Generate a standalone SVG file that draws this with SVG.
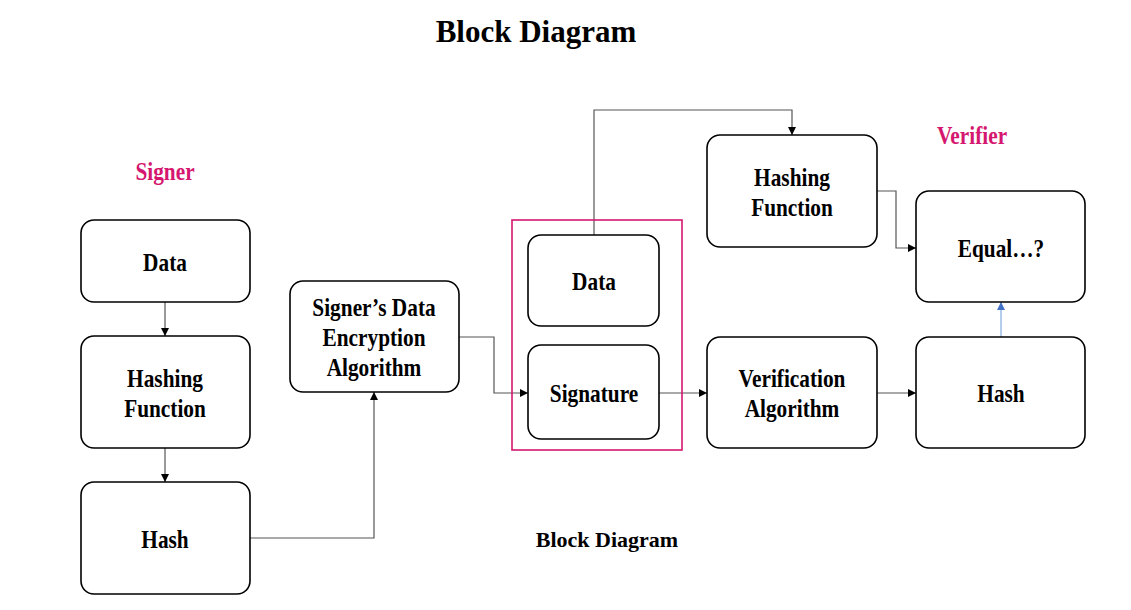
<svg xmlns="http://www.w3.org/2000/svg" width="1131" height="610" viewBox="0 0 1131 610">
<style>
.box{fill:#fff;stroke:#000;stroke-width:1.6}
.t{font-family:"Liberation Serif","Times New Roman",serif;font-weight:bold;font-size:26px;fill:#000;text-anchor:middle}
.p{fill:#d5176f}
.c{fill:none;stroke:#555;stroke-width:1.2}
</style>
<defs>
<marker id="a" viewBox="0 0 10 10" refX="10" refY="5" markerWidth="8" markerHeight="8" orient="auto" markerUnits="userSpaceOnUse"><path d="M0,0 L10,5 L0,10 z" fill="#000"/></marker>
<marker id="b" viewBox="0 0 10 10" refX="10" refY="5" markerWidth="8" markerHeight="8" orient="auto" markerUnits="userSpaceOnUse"><path d="M0,0 L10,5 L0,10 z" fill="#4472c4"/></marker>
</defs>
<rect width="1131" height="610" fill="#fff"/>
<text x="536" y="42" style="font-family:'Liberation Serif',serif;font-weight:bold;font-size:31px;text-anchor:middle">Block Diagram</text>
<text class="t p" transform="translate(165 0) scale(0.82 1)" x="0" y="180">Signer</text>
<text class="t p" transform="translate(972 0) scale(0.82 1)" x="0" y="144">Verifier</text>
<text x="607" y="547" style="font-family:'Liberation Serif',serif;font-weight:bold;font-size:22px;text-anchor:middle">Block Diagram</text>

<g id="connectors">
<path class="c" d="M165,302 V336" marker-end="url(#a)"/>
<path class="c" d="M165,448 V482" marker-end="url(#a)"/>
<path class="c" d="M250,538 H374 V392" marker-end="url(#a)"/>
<path class="c" d="M459,337 H494 V393 H528" marker-end="url(#a)"/>
<path class="c" d="M594,235 V110 H792 V135" marker-end="url(#a)"/>
<path class="c" d="M659,393 H707" marker-end="url(#a)"/>
<path class="c" d="M877,191 H896 V248 H916" marker-end="url(#a)"/>
<path class="c" d="M877,393 H916" marker-end="url(#a)"/>
<path d="M1001,337 V302" fill="none" stroke="#9dbde6" stroke-width="1.5" marker-end="url(#b)"/>
</g>

<g id="n-data"><rect class="box" x="81" y="220" width="169" height="82" rx="13"/><text class="t" transform="translate(165 0) scale(0.82 1)" x="0" y="271">Data</text></g>
<g id="n-hashfn"><rect class="box" x="81" y="336" width="169" height="112" rx="13"/><text class="t" transform="translate(165 0) scale(0.82 1)" x="0" y="387">Hashing</text><text class="t" transform="translate(165 0) scale(0.82 1)" x="0" y="417">Function</text></g>
<g id="n-hash"><rect class="box" x="81" y="482" width="169" height="112" rx="13"/><text class="t" transform="translate(165 0) scale(0.82 1)" x="0" y="548">Hash</text></g>
<g id="n-enc"><rect class="box" x="290" y="281" width="169" height="111" rx="13"/><text class="t" transform="translate(374 0) scale(0.82 1)" x="0" y="316">Signer’s Data</text><text class="t" transform="translate(374 0) scale(0.82 1)" x="0" y="346">Encryption</text><text class="t" transform="translate(374 0) scale(0.82 1)" x="0" y="376">Algorithm</text></g>
<g id="n-group"><rect x="512" y="220" width="170" height="230" fill="none" stroke="#d5176f" stroke-width="1.6"/></g>
<g id="n-data2"><rect class="box" x="528" y="235" width="131" height="91" rx="13"/><text class="t" transform="translate(594 0) scale(0.82 1)" x="0" y="290">Data</text></g>
<g id="n-sig"><rect class="box" x="528" y="345" width="131" height="94" rx="13"/><text class="t" transform="translate(594 0) scale(0.82 1)" x="0" y="402">Signature</text></g>
<g id="n-hashfn2"><rect class="box" x="707" y="135" width="170" height="112" rx="13"/><text class="t" transform="translate(792 0) scale(0.82 1)" x="0" y="186">Hashing</text><text class="t" transform="translate(792 0) scale(0.82 1)" x="0" y="216">Function</text></g>
<g id="n-verif"><rect class="box" x="707" y="337" width="170" height="111" rx="13"/><text class="t" transform="translate(792 0) scale(0.82 1)" x="0" y="387">Verification</text><text class="t" transform="translate(792 0) scale(0.82 1)" x="0" y="417">Algorithm</text></g>
<g id="n-equal"><rect class="box" x="916" y="191" width="169" height="111" rx="13"/><text class="t" transform="translate(1001 0) scale(0.82 1)" x="0" y="257">Equal…?</text></g>
<g id="n-hash2"><rect class="box" x="916" y="337" width="169" height="111" rx="13"/><text class="t" transform="translate(1001 0) scale(0.82 1)" x="0" y="402">Hash</text></g>
</svg>
